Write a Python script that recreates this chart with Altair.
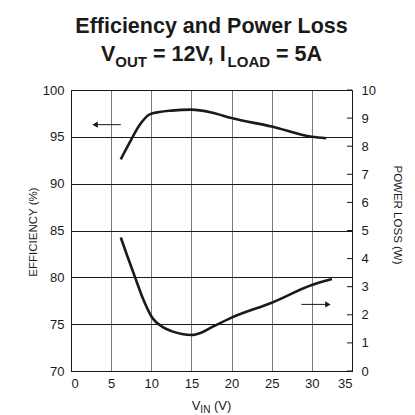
import altair as alt
import pandas as pd

# ---- data ----
vin_eff = [6.2, 7.5, 8.5, 9.8, 11.0, 12.5, 15.0, 17.5, 20.0, 25.0, 30.0, 31.8]
efficiency = [92.6, 94.7, 96.2, 97.4, 97.65, 97.8, 97.9, 97.6, 97.0, 96.1, 95.0, 94.85]

vin_loss = [6.2, 7.0, 8.1, 9.0, 10.0, 11.5, 12.5, 13.8, 15.0, 16.2, 17.5, 20.0, 25.0, 30.0, 32.5]
power_loss = [4.75, 4.1, 3.24, 2.55, 1.95, 1.55, 1.42, 1.32, 1.28, 1.36, 1.55, 1.9, 2.43, 3.06, 3.27]

# arrow annotations (data units)
eff_arrow_x = [3.0, 6.2]
eff_arrow_y = 96.3
loss_arrow_x = [28.7, 32.0]
loss_arrow_y = 2.37

x_ticks = [0, 5, 10, 15, 20, 25, 30, 35]
eff_ticks = [70, 75, 80, 85, 90, 95, 100]
loss_ticks = [0, 1, 2, 3, 4, 5, 6, 7, 8, 9, 10]

title_line1 = "Efficiency and Power Loss"
title_line2 = [("V", "main"), ("OUT", "sub"), (" = 12V, I", "main"), ("LOAD", "sub"), (" = 5A", "main")]
x_title = [("V", "main"), ("IN", "sub"), (" (V)", "main")]
y_left_title = "EFFICIENCY (%)"
y_right_title = "POWER LOSS (W)"

FONT = "Liberation Sans"
INK = "#1a1a1a"

eff_df = pd.DataFrame({"vin": vin_eff, "eff": efficiency})
loss_df = pd.DataFrame({"vin": vin_loss, "loss": power_loss})
eff_arrow_df = pd.DataFrame({"x1": [eff_arrow_x[0]], "x2": [eff_arrow_x[1]], "y": [eff_arrow_y]})
loss_arrow_df = pd.DataFrame({"x1": [loss_arrow_x[0]], "x2": [loss_arrow_x[1]], "y": [loss_arrow_y]})
loss_tick_df = pd.DataFrame({"v": loss_ticks})

xscale = alt.Scale(domain=[0, 35], nice=False, zero=False)
x_enc = alt.X(
    "vin:Q", scale=xscale, title=None,
    axis=alt.Axis(values=x_ticks, grid=True, ticks=False, domain=True, domainColor=INK,
                  labelFontSize=13, labelPadding=6, labelColor=INK,
                  gridColor=alt.condition("datum.value == 0 || datum.value == 35",
                                          alt.value(INK), alt.value("#7a7a7a")),
                  gridWidth=1),
)

eff_scale = alt.Scale(domain=[70, 100], nice=False, zero=False)
loss_scale = alt.Scale(domain=[0, 10], nice=False, zero=False)

eff_axis = alt.Axis(orient="left", values=eff_ticks, grid=True, gridColor=INK, gridWidth=1,
                    ticks=False, domain=True, domainColor=INK, labelFontSize=13,
                    labelPadding=7, labelColor=INK, title=None)
loss_axis = alt.Axis(orient="right", values=loss_ticks, grid=False, ticks=False,
                     domain=True, domainColor=INK, labelFontSize=13,
                     labelPadding=9, labelColor=INK, title=None)

eff_line = alt.Chart(eff_df).mark_line(color=INK, strokeWidth=2.6, interpolate="monotone").encode(
    x=x_enc, y=alt.Y("eff:Q", scale=eff_scale, axis=eff_axis)
)
eff_arrow = alt.Chart(eff_arrow_df).mark_rule(color=INK, strokeWidth=1).encode(
    x=alt.X("x1:Q", scale=xscale), x2="x2:Q", y=alt.Y("y:Q", scale=eff_scale, axis=eff_axis)
)
eff_head = alt.Chart(eff_arrow_df).mark_point(shape="triangle-left", filled=True, color=INK,
                                              opacity=1, size=40).encode(
    x=alt.X("x1:Q", scale=xscale), y=alt.Y("y:Q", scale=eff_scale, axis=eff_axis)
)
left = alt.layer(eff_line, eff_arrow, eff_head)

loss_line = alt.Chart(loss_df).mark_line(color=INK, strokeWidth=2.6, interpolate="monotone").encode(
    x=x_enc, y=alt.Y("loss:Q", scale=loss_scale, axis=loss_axis)
)
loss_arrow = alt.Chart(loss_arrow_df).mark_rule(color=INK, strokeWidth=1).encode(
    x=alt.X("x1:Q", scale=xscale), x2="x2:Q", y=alt.Y("y:Q", scale=loss_scale, axis=loss_axis)
)
loss_head = alt.Chart(loss_arrow_df).mark_point(shape="triangle-right", filled=True, color=INK,
                                                opacity=1, size=40).encode(
    x=alt.X("x2:Q", scale=xscale), y=alt.Y("y:Q", scale=loss_scale, axis=loss_axis)
)
# inward tick marks of the right axis
loss_tickmarks = alt.Chart(loss_tick_df).mark_rule(color=INK, strokeWidth=1).encode(
    x=alt.value(276), x2=alt.value(281), y=alt.Y("v:Q", scale=loss_scale, axis=loss_axis)
)
right = alt.layer(loss_line, loss_arrow, loss_head, loss_tickmarks)

# approximate Arial advance widths (per 1000 em) for laying out mixed-size text
W = {"V": 667, "O": 778, "U": 722, "T": 611, "=": 584, " ": 278, "1": 556, "2": 556,
     ",": 278, "I": 278, "L": 611, "A": 722, "D": 722, "5": 556, "N": 722, "(": 333, ")": 333}


def width(s, size):
    return sum(W.get(c, 600) for c in s) * size / 1000.0


def txt(text, x, y, size, bold=False, align="left", angle=0, baseline="alphabetic"):
    return alt.Chart(pd.DataFrame({"t": [text]})).mark_text(
        font=FONT, fontSize=size, fontWeight="bold" if bold else "normal", color=INK,
        align=align, baseline=baseline, angle=angle
    ).encode(text="t:N", x=alt.value(x), y=alt.value(y))


def run(pieces, main, sub, y_main, y_sub, bold):
    out = []
    total = sum(width(s, main if k == "main" else sub) for s, k in pieces)
    xx = CX - total / 2
    for s, k in pieces:
        size = main if k == "main" else sub
        stripped = s.lstrip(" ")
        lead = width(s[: len(s) - len(stripped)], size)
        out.append(txt(stripped, xx + lead, y_main if k == "main" else y_sub, size, bold=bold))
        xx += width(s, size)
    return out


CX = 140.5  # horizontal centre of the plot area
texts = [txt(title_line1, CX, -57, 21.5, bold=True, align="center")]
texts += run(title_line2, 21.5, 15, -29, -23, True)
texts += run(x_title, 13, 10, 320, 323, False)
texts.append(txt(y_left_title, -37, 142, 11.5, align="center", angle=270, baseline="middle"))
texts.append(txt(y_right_title, 326, 125, 11.5, align="center", angle=90, baseline="middle"))

chart = alt.layer(left, right, *texts).resolve_scale(y="independent").properties(
    width=281, height=281, autosize="none",
    padding={"left": 63, "top": 82, "right": 55, "bottom": 44},
).configure(font=FONT).configure_view(stroke=INK, strokeWidth=1).configure_axis(labelFont=FONT)

chart.save("out.html", embed_options={"renderer": "svg", "actions": False})
